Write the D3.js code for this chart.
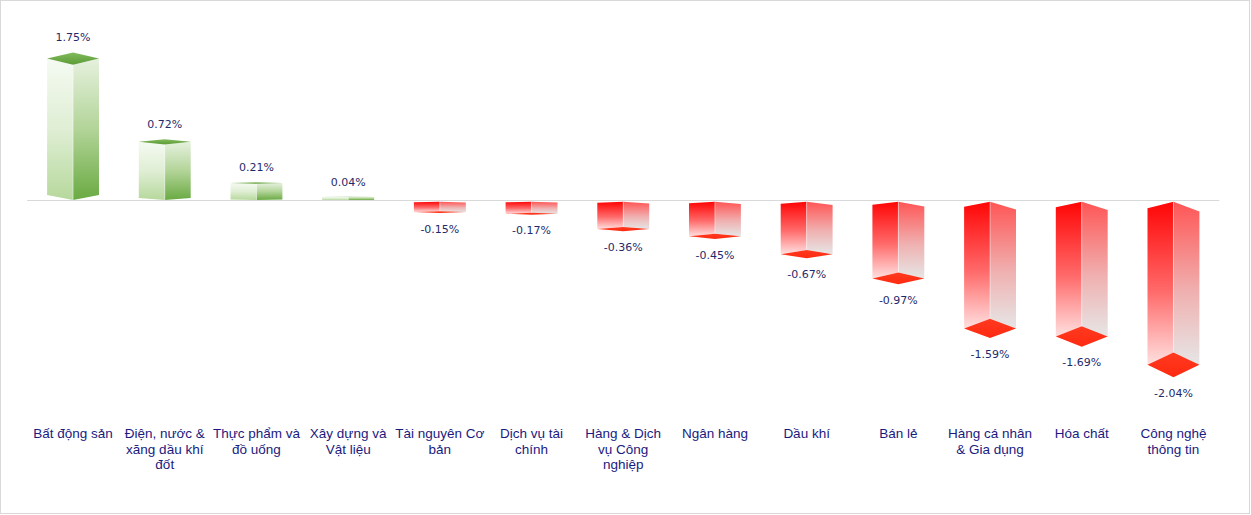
<!DOCTYPE html>
<html>
<head>
<meta charset="utf-8">
<script src="https://cdn.jsdelivr.net/npm/d3@7"></script>
<style>
	body { margin: 0; background: #fff; }
	svg { display: block; }
	.value-label { font-family: "DejaVu Sans", Verdana, sans-serif; font-size: 11px; fill: #1f2a6b; }
	.cat-label { font-family: "Liberation Sans", Arial, sans-serif; font-size: 13.5px; fill: #1a1a80; }
</style>
</head>
<body>
<svg id="chart-svg" width="1251" height="515"></svg>
<script>
var categories = [
	"Bất động sản",
	"Điện, nước &\nxăng dầu khí\nđốt",
	"Thực phẩm và\nđồ uống",
	"Xây dựng và\nVật liệu",
	"Tài nguyên Cơ\nbản",
	"Dịch vụ tài\nchính",
	"Hàng & Dịch\nvụ Công\nnghiệp",
	"Ngân hàng",
	"Dầu khí",
	"Bán lẻ",
	"Hàng cá nhân\n& Gia dụng",
	"Hóa chất",
	"Công nghệ\nthông tin"
];
var values = [1.75, 0.72, 0.21, 0.04, -0.15, -0.17, -0.36, -0.45, -0.67, -0.97, -1.59, -1.69, -2.04];
var valueLabels = ["1.75%", "0.72%", "0.21%", "0.04%", "-0.15%", "-0.17%", "-0.36%", "-0.45%", "-0.67%", "-0.97%", "-1.59%", "-1.69%", "-2.04%"];

var drawChart = function() {
	var svg = d3.select("#chart-svg");

	/* outer frame */
	svg.append("rect")
		.attr("x", 0.5).attr("y", 0.5)
		.attr("width", 1249).attr("height", 513)
		.attr("fill", "#fff")
		.attr("stroke", "#d9d9d9");

	var x = d3.scaleBand()
		.domain(categories)
		.range([27.2, 1219.3]);

	var y = d3.scaleLinear()
		.domain([-2.5, 2])
		.range([402, 38.4]);

	/* gradients */
	var defs = svg.append("defs");
	var addGrad = function(id, stops) {
		var g = defs.append("linearGradient")
			.attr("id", id)
			.attr("x1", 0).attr("y1", 0).attr("x2", 0).attr("y2", 1);
		stops.forEach(function(s) {
			g.append("stop").attr("offset", s[0]).attr("stop-color", s[1]);
		});
	};
	addGrad("pos-left", [[0, "#f5faf2"], [0.5, "#dfeed4"], [1, "#b6d89c"]]);
	addGrad("pos-right", [[0, "#e6f1de"], [0.5, "#b2d498"], [1, "#6aaa42"]]);
	addGrad("pos-cap", [[0, "#82bb5c"], [1, "#5b9b35"]]);
	addGrad("neg-left", [[0, "#ff0505"], [0.55, "#ff6a6a"], [1, "#ffe0e0"]]);
	addGrad("neg-right", [[0, "#ff5555"], [0.55, "#f0b0b0"], [1, "#e6e6e6"]]);
	addGrad("neg-cap", [[0, "#ff3a20"], [1, "#ff2a10"]]);

	/* zero line */
	svg.append("line")
		.attr("x1", x.range()[0]).attr("x2", x.range()[1])
		.attr("y1", y(0) + 0.5).attr("y2", y(0) + 0.5)
		.attr("stroke", "#d9d9d9");

	var line = d3.line();
	var bw = x.bandwidth();
	var w = bw * 0.283;
	var y0 = y(0);

	categories.forEach(function(c, i) {
		var v = values[i];
		var cx = x(c) + bw / 2;
		var y1 = y(v);
		var depth = Math.abs(y1 - y0);
		var g = svg.append("g").attr("class", "bar");
		var left, right, cap, ly;

		if (v >= 0) {
			var h = 0.044 * depth;
			var rb = 0.035 * depth;
			left = [[cx - w, y1], [cx, y1 + h], [cx, y0], [cx - w, y0 - rb]];
			right = [[cx, y1 + h], [cx + w, y1], [cx + w, y0 - rb], [cx, y0]];
			cap = [[cx - w, y1], [cx, y1 - h], [cx + w, y1], [cx, y1 + h]];
			ly = y1 - h - 11;
			g.append("path").attr("d", line(left) + "Z").attr("fill", "url(#pos-left)");
			g.append("path").attr("d", line(right) + "Z").attr("fill", "url(#pos-right)");
			g.append("path").attr("d", line(cap) + "Z").attr("fill", "url(#pos-cap)");
		} else {
			var yTop = y0 + 1.7;
			var dl = 0.04 * depth;
			var dr = 0.06 * depth;
			var hn = 0.075 * depth;
			left = [[cx - w, yTop + dl], [cx, yTop], [cx, y1 - hn], [cx - w, y1]];
			right = [[cx, yTop], [cx + w, yTop + dr], [cx + w, y1], [cx, y1 - hn]];
			cap = [[cx - w, y1], [cx, y1 - hn], [cx + w, y1], [cx, y1 + hn]];
			ly = y1 + hn + 19.5;
			g.append("path").attr("d", line(left) + "Z").attr("fill", "url(#neg-left)");
			g.append("path").attr("d", line(right) + "Z").attr("fill", "url(#neg-right)");
			g.append("path").attr("d", line(cap) + "Z").attr("fill", "url(#neg-cap)");
		}

		/* light front edge */
		g.append("line")
			.attr("x1", cx).attr("x2", cx)
			.attr("y1", left[1][1]).attr("y2", left[2][1])
			.attr("stroke", "#ffffff").attr("stroke-opacity", 0.45).attr("stroke-width", 1);

		g.append("text")
			.attr("class", "value-label")
			.attr("x", cx)
			.attr("y", ly)
			.attr("text-anchor", "middle")
			.text(valueLabels[i]);

		var t = svg.append("text")
			.attr("class", "cat-label")
			.attr("text-anchor", "middle")
			.attr("x", cx)
			.attr("y", 438);
		c.split("\n").forEach(function(part, k) {
			t.append("tspan")
				.attr("x", cx)
				.attr("dy", k === 0 ? 0 : 15.5)
				.text(part);
		});
	});
}

drawChart();
</script>
</body>
</html>
